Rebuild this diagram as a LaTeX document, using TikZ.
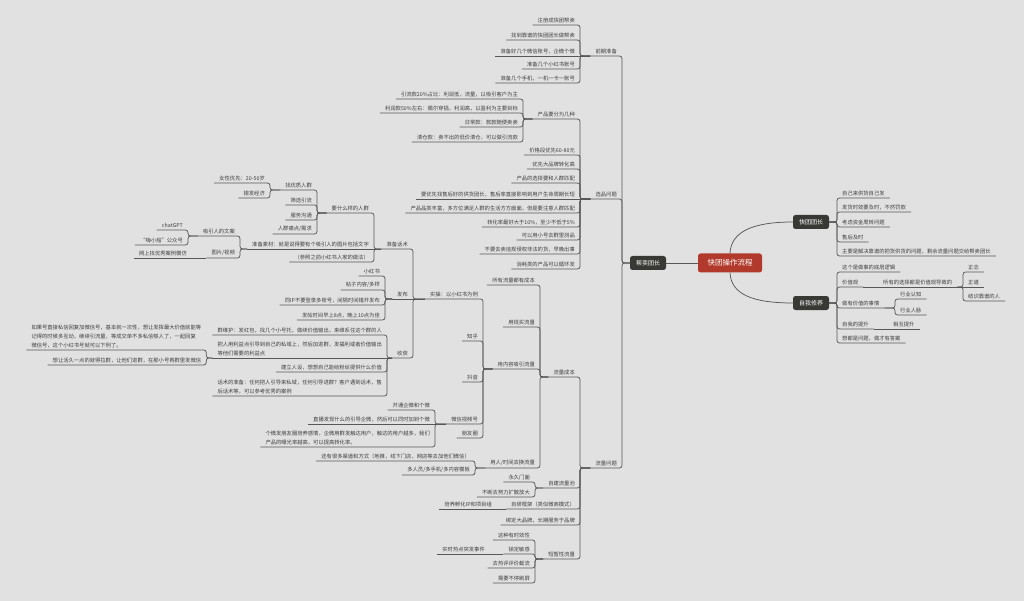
\documentclass[tikz,border=0pt]{standalone}
\usepackage{fontspec}
\setmainfont{Noto Sans CJK SC}
\usetikzlibrary{positioning}
\definecolor{bgc}{RGB}{225,225,225}
\definecolor{linec}{RGB}{88,88,88}
\definecolor{txtc}{RGB}{62,62,62}
\definecolor{boxc}{RGB}{56,56,52}
\definecolor{rootc}{RGB}{178,58,44}
\newcommand{\toL}[2]{\draw[link] (#1) -| (#2.south east) -- (#2.south west);}
\newcommand{\toR}[2]{\draw[link] (#1) -| (#2.south west) -- (#2.south east);}
\tikzset{
  topic/.style={font=\fontsize{5.3}{9}\selectfont, text=txtc, inner xsep=5pt, inner ysep=2pt, align=left},
  lt/.style={topic, anchor=south east},
  rt/.style={topic, anchor=south west},
  box/.style={fill=boxc, text=white, rounded corners=2.5pt, minimum width=36pt, minimum height=14pt, inner sep=2pt, font=\fontsize{6}{7}\selectfont},
  rootbox/.style={box, fill=rootc, minimum width=64pt, minimum height=19pt, font=\fontsize{7.5}{9}\selectfont},
  link/.style={draw=linec, line width=0.75pt, rounded corners=2.5pt},
}
\begin{document}
\begin{tikzpicture}[x=1pt, y=-1pt]
  \fill[bgc] (0,0) rectangle (1024,601);
  \useasboundingbox (0,0) rectangle (1024,601);

  % center
  \node[rootbox] (root) at (730,263) {快团操作流程};
  \node[box] (bm) at (648,263) {帮卖团长};
  \node[box] (ktz) at (811,222) {快团团长};
  \node[box] (zw) at (811,303) {自我修养};
  \draw[link] (root.west) -- (bm.east);
  \draw[link] (root.north) .. controls (731,232) and (752,222) .. (ktz.west);
  \draw[link] (root.south) .. controls (731,294) and (752,303) .. (zw.west);

  % 快团团长
  \foreach \y/\t in {198/自己来供货自己发, 212/发货时效要及时，不然罚款, 227/考虑资金周转问题, 242/售后及时, 256/主要是解决靠谱的把货供货的问题，剩余流量问题交给帮卖团长} {
    \node[rt] (k\y) at (837,\y) {\t};
    \toR{ktz.east}{k\y}
  }

  % 自我修养
  \node[rt] (z1) at (837,272) {这个是做事的底层逻辑};
  \node[rt] (jz) at (837,287) {价值观};
  \node[rt] (yj) at (837,308) {做有价值的事情};
  \node[rt] (ts) at (837,329) {自我的提升};
  \node[rt] (z5) at (837,343) {想都是问题，做才有答案};
  \foreach \n in {z1,jz,yj,ts,z5} {\toR{zw.east}{\n}}
  \node[rt] (xz) at (878,287) {所有的选择都是价值观导致的};
  \draw[link] (jz.south east) -- (xz.south east);
  \node[rt] (zn) at (963,272) {正念};
  \node[rt] (zd) at (963,287) {正道};
  \node[rt] (jr) at (963,301) {结识靠谱的人};
  \toR{xz.south east}{zn}
  \draw[link] (xz.south east) -- (zd.south east);
  \toR{xz.south east}{jr}
  \node[rt] (hr) at (895,299) {行业认知};
  \node[rt] (hm) at (895,315) {行业人脉};
  \toR{yj.south east}{hr}
  \toR{yj.south east}{hm}
  \node[rt] (xh) at (888,329) {相互提升};
  \draw[link] (ts.south east) -- (xh.south east);

  % 帮卖团长
  \node[lt] (qq) at (622,56) {前期准备};
  \node[lt] (xp) at (622,199) {选品问题};
  \node[lt] (ll) at (622,468) {流量问题};
  \foreach \n in {qq,xp,ll} {\toL{bm.west}{\n}}

  % 前期准备
  \foreach \y/\t in {25/注册成快团帮卖, 40/找到靠谱的快团团长做帮卖, 69/准备几个小红书账号, 83/准备几个手机，一机一卡一账号} {
    \node[lt] (q\y) at (580,\y) {\t};
    \toL{qq.south west}{q\y}
  }
  \node[lt] (q56) at (580,56) {准备好几个微信账号，企微个微};
  \draw[link] (qq.south west) -- (q56.south west);

  % 选品问题
  \node[lt] (cp) at (580,119) {产品要分为几种};
  \toL{xp.south west}{cp}
  \foreach \y/\t in {155/价格段优先60-80元, 169/优先大品牌转化高, 183/产品的选择要和人群匹配, 213/产品品类丰富，多方位满足人群的生活方方面面，但是要注意人群匹配, 227/转化率最好大于10\%，至少不低于5\%, 240/可以用小号去群里测品, 254/不要去卖违规侵权非法的货，早晚出事, 269/消耗类的产品可以循环发} {
    \node[lt] (x\y) at (580,\y) {\t};
    \toL{xp.south west}{x\y}
  }
  \node[lt] (x199) at (580,199) {要优先找售后好的供货团长，售后率直接影响到用户生命周期长短};
  \draw[link] (xp.south west) -- (x199.south west);
  \foreach \y/\t in {99/引流款20\%占比：利润低，流量，以吸引客户为主, 113/利润款50\%左右：偶尔穿插，利润高，以盈利为主要目标, 127/日常款：款款随便卖卖, 142/清仓款：卖不出的低价清仓，可以做引流款} {
    \node[lt] (c\y) at (523,\y) {\t};
    \toL{cp.south west}{c\y}
  }

  % 流量问题
  \node[lt] (cb) at (580,377) {流量成本};
  \node[lt] (zj) at (580,488) {自建流量池};
  \node[lt] (zy) at (580,509) {自研框架（类似微商模式）};
  \node[lt] (bd) at (580,525) {绑定大品牌，长期服务于品牌};
  \node[lt] (dz) at (580,559) {短暂性流量};
  \foreach \n in {cb,zj,zy,bd,dz} {\toL{ll.south west}{\n}}

  % 流量成本
  \node[lt] (cb1) at (540,285) {所有流量都有成本};
  \node[lt] (cb2) at (540,327) {用钱买流量};
  \node[lt] (nr) at (540,369) {用内容吸引流量};
  \node[lt] (yr) at (540,468) {用人/时间去换流量};
  \foreach \n in {cb1,cb2,nr,yr} {\toL{cb.south west}{\n}}

  % 用内容吸引流量
  \node[lt] (sc) at (483,299) {实操：以小红书为例};
  \node[lt] (zh) at (483,341) {知乎};
  \node[lt] (dy) at (483,382) {抖音};
  \node[lt] (wx) at (483,424) {微信视频号};
  \node[lt] (pq) at (483,438) {朋友圈};
  \foreach \n in {sc,zh,dy,wx,pq} {\toL{nr.south west}{\n}}

  % 实操
  \node[lt] (hs) at (413,249) {准备话术};
  \node[lt] (fb) at (413,299) {发布};
  \node[lt] (sh) at (413,358) {收获};
  \toL{sc.south west}{hs}
  \draw[link] (sc.south west) -- (fb.south west);
  \toL{sc.south west}{sh}

  % 准备话术
  \node[lt] (rq) at (374,213) {要什么样的人群};
  \node[lt] (sz) at (374,249) {准备素材：就是说得要有个吸引人的图片包括文字};
  \node[lt] (cz) at (374,262) {（参照之前小红书人家的做法）};
  \toL{hs.south west}{rq}
  \draw[link] (hs.south west) -- (sz.south west);
  \toL{hs.south west}{cz}
  \node[lt] (yz) at (317,190) {找优质人群};
  \toL{rq.south west}{yz}
  \foreach \y/\t in {205/筛选引流, 220/服务沟通, 234/{人群痛点/需求}} {
    \node[lt] (r\y) at (317,\y) {\t};
    \toL{rq.south west}{r\y}
  }
  \node[lt] (nx) at (270,183) {女性优先：20-50岁};
  \node[lt] (yf) at (270,198) {银发经济};
  \toL{yz.south west}{nx}
  \toL{yz.south west}{yf}
  \node[lt] (wa) at (240,236) {吸引人的文案};
  \node[lt] (tp) at (240,258) {图片/视频};
  \toL{sz.south west}{wa}
  \toL{sz.south west}{tp}
  \node[lt] (gpt) at (188,230) {chatGPT};
  \node[lt] (gzh) at (188,245) {“嗨小船”公众号};
  \toL{wa.south west}{gpt}
  \toL{wa.south west}{gzh}
  \node[lt] (al) at (192,258) {网上找优秀案例模仿};
  \draw[link] (tp.south west) -- (al.south west);

  % 发布
  \foreach \y/\t in {276/小红书, 290/{帖子内容/多样}, 305/同IP不要登录多账号，间隔时间错开发布, 320/发帖时间早上8点，晚上10点为佳} {
    \node[lt] (f\y) at (385,\y) {\t};
    \toL{fb.south west}{f\y}
  }

  % 收获
  \node[lt] (s1) at (387,335) {群维护：发红包，找几个小号托，做续价值输出，来维系住这个群的人};
  \node[lt] (lx) at (387,358) {把人用利益点引导到自己的私域上，然后加进群，发福利或者价值输出\\等他们需要的利益点};
  \node[lt] (s3) at (387,372) {建立人设，想想自己能给粉丝提供什么价值};
  \node[lt] (s4) at (387,396) {话术的准备：任何把人引导来私域，任何引导进群？客户遇到话术，售\\后话术等，可以参考优秀的案例};
  \toL{sh.south west}{s1}
  \draw[link] (sh.south west) -- (lx.south west);
  \toL{sh.south west}{s3}
  \toL{sh.south west}{s4}
  \node[lt] (lx1) at ([shift={(-6,-8)}]lx.south west) {如果号直接私信回复加微信号，基本就一次性，想让发挥最大价值就能等\\记得的时候多互动，继续引流量，等成交单不多私信够人了，一起回复\\微信号，这个小红书号就可以下例了。};
  \node[lt] (lx2) at ([shift={(-6,7)}]lx.south west) {想让活久一点的就得拉群，让他们进群，在那小号再群里发微信};
  \toL{lx.south west}{lx1}
  \toL{lx.south west}{lx2}

  % 微信视频号
  \node[lt] (w1) at (435,410) {开通企微和个微};
  \node[lt] (w2) at (435,424) {直播发现什么的引导企微，然后可以同时加到个微};
  \node[lt] (w3) at (435,447) {个微发朋友圈培养感情，企微用群发触达用户，触达的用户越多，我们\\产品的曝光率越高，可以提高转化率。};
  \toL{wx.south west}{w1}
  \draw[link] (wx.south west) -- (w2.south west);
  \toL{wx.south west}{w3}

  % 用人/时间去换流量
  \node[lt] (y1) at (475,461) {还有很多渠道和方式（地推，线下门店，网店等去加他们微信）};
  \node[lt] (y2) at (475,475) {多人员/多手机/多内容模板};
  \toL{yr.south west}{y1}
  \toL{yr.south west}{y2}

  % 自建流量池 / 自研框架
  \node[lt] (j1) at (535,482) {永久门面};
  \node[lt] (j2) at (535,497) {不断去努力扩散放大};
  \toL{zj.south west}{j1}
  \toL{zj.south west}{j2}
  \node[lt] (py) at (497,509) {培养孵化IP和项目组};
  \draw[link] (zy.south west) -- (py.south west);

  % 短暂性流量
  \node[lt] (sd) at (535,554) {锁定敏感};
  \toL{dz.south west}{sd}
  \foreach \y/\t in {540/这种有时效性, 568/去热评评价截流, 583/需要不停刷屏} {
    \node[lt] (d\y) at (535,\y) {\t};
    \toL{dz.south west}{d\y}
  }
  \node[lt] (rd) at (490,554) {实时热点突发事件};
  \draw[link] (sd.south west) -- (rd.south west);
\end{tikzpicture}
\end{document}
